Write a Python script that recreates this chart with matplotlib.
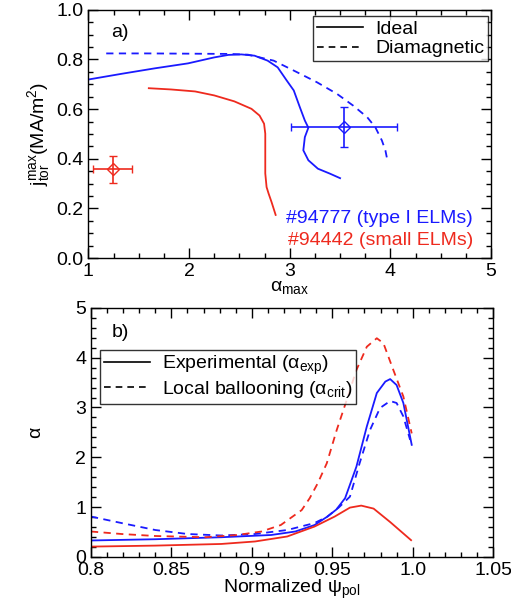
import matplotlib
matplotlib.use("Agg")
import matplotlib.pyplot as plt
from matplotlib.ticker import MultipleLocator, FormatStrFormatter
from matplotlib.lines import Line2D

plt.rcParams['font.family'] = ['Liberation Sans', 'DejaVu Sans']
plt.rcParams['mathtext.fontset'] = 'custom'
plt.rcParams['mathtext.rm'] = 'Liberation Sans'
plt.rcParams['mathtext.it'] = 'Liberation Sans'

# ---- Panel a) data ----
ideal_94777_x = [1.00, 1.33, 1.66, 1.99, 2.25, 2.39, 2.52, 2.65, 2.78, 2.88, 2.97, 3.04, 3.10, 3.15,
                 3.185, 3.15, 3.135, 3.185, 3.28, 3.40, 3.50]
ideal_94777_y = [0.719, 0.742, 0.764, 0.784, 0.808, 0.818, 0.820, 0.815, 0.795, 0.768, 0.715, 0.675, 0.608, 0.554,
                 0.525, 0.487, 0.434, 0.394, 0.360, 0.340, 0.322]
diam_94777_x = [1.177, 1.6, 2.0, 2.4, 2.585, 2.84, 3.04, 3.27, 3.47, 3.63, 3.77, 3.85, 3.915, 3.95, 3.97]
diam_94777_y = [0.824, 0.824, 0.823, 0.822, 0.819, 0.795, 0.755, 0.708, 0.661, 0.614, 0.567, 0.527, 0.474, 0.434, 0.394]
ideal_94442_x = [1.60, 1.82, 2.06, 2.25, 2.45, 2.62, 2.70, 2.745, 2.757, 2.757, 2.757, 2.77, 2.79, 2.82, 2.86]
ideal_94442_y = [0.684, 0.679, 0.671, 0.655, 0.631, 0.601, 0.574, 0.541, 0.501, 0.43, 0.341, 0.286, 0.260, 0.225, 0.174]
exp_94777 = (3.54, 0.529, 0.53, 0.08)   # x, y, xerr, yerr
exp_94442 = (1.24, 0.357, 0.19, 0.054)

# ---- Panel b) data ----
psi_exp_94777 = [0.80, 0.84, 0.881, 0.912, 0.927, 0.939, 0.947, 0.9525, 0.958, 0.965, 0.9715, 0.9777,
                 0.983, 0.986, 0.990, 0.9942, 0.9994]
alpha_exp_94777 = [0.33, 0.355, 0.395, 0.44, 0.51, 0.64, 0.81, 0.95, 1.18, 1.81, 2.62, 3.29,
                   3.52, 3.57, 3.45, 3.09, 2.25]
psi_crit_94777 = [0.80, 0.819, 0.840, 0.860, 0.881, 0.902, 0.922, 0.939, 0.947, 0.954, 0.961, 0.967, 0.9735,
                  0.9797, 0.986, 0.990, 0.9942, 0.9984]
alpha_crit_94777 = [0.81, 0.68, 0.54, 0.46, 0.43, 0.46, 0.54, 0.68, 0.81, 0.99, 1.21, 1.88, 2.55,
                    2.99, 3.13, 3.09, 2.82, 2.35]
psi_exp_94442 = [0.80, 0.84, 0.881, 0.902, 0.922, 0.939, 0.9515, 0.961, 0.968, 0.9757, 0.986, 0.999]
alpha_exp_94442 = [0.207, 0.227, 0.26, 0.31, 0.41, 0.61, 0.81, 0.99, 1.03, 0.97, 0.70, 0.336]
psi_crit_94442 = [0.80, 0.819, 0.840, 0.871, 0.891, 0.906, 0.918, 0.931, 0.936, 0.941, 0.9466, 0.9528, 0.959,
                  0.965, 0.9715, 0.9777, 0.9818, 0.988, 0.9942, 0.9994]
alpha_crit_94442 = [0.51, 0.46, 0.42, 0.395, 0.44, 0.51, 0.64, 0.94, 1.18, 1.48, 1.88, 2.55, 3.15,
                    3.75, 4.22, 4.39, 4.29, 3.75, 3.22, 2.48]

BLUE = '#1a1aff'
RED = '#ee2a1e'
FS = 14

fig = plt.figure(figsize=(5.11, 6.06), dpi=100)
ax1 = fig.add_axes([0.173, 0.574, 0.788, 0.410])
ax2 = fig.add_axes([0.178, 0.081, 0.787, 0.411])

def style(ax):
    ax.tick_params(which='both', direction='in', top=True, right=True, labelsize=FS, width=1.0)
    ax.tick_params(which='major', length=7, pad=3.5)
    ax.tick_params(which='minor', length=3.5)
    for s in ax.spines.values():
        s.set_linewidth(1.0)

# Panel a
ax1.plot(ideal_94777_x, ideal_94777_y, color=BLUE, lw=1.3)
ax1.plot(diam_94777_x, diam_94777_y, color=BLUE, lw=1.3, ls=(0, (4, 3)))
ax1.plot(ideal_94442_x, ideal_94442_y, color=RED, lw=1.3)
for (x, y, xe, ye), c in [(exp_94777, BLUE), (exp_94442, RED)]:
    ax1.errorbar([x], [y], xerr=[xe], yerr=[ye], fmt='D', mfc='none', mec=c, ecolor=c,
                 ms=6, mew=1.0, elinewidth=1.2, capsize=3, capthick=1.2)
ax1.set_xlim(1, 5)
ax1.set_ylim(0, 1.0)
ax1.xaxis.set_major_locator(MultipleLocator(1))
ax1.xaxis.set_minor_locator(MultipleLocator(0.25))
ax1.yaxis.set_major_locator(MultipleLocator(0.2))
ax1.yaxis.set_minor_locator(MultipleLocator(0.05))
ax1.yaxis.set_major_formatter(FormatStrFormatter('%.1f'))
style(ax1)
ax1.set_xlabel(r'$\mathrm{\alpha_{max}}$', fontsize=FS, labelpad=-1)
ax1.set_ylabel(r'$\mathrm{j_{tor}^{max}}$(MA/m$^2$)', fontsize=FS, labelpad=3)
ax1.text(1.31, 0.91, 'a)', fontsize=FS, ha='center', va='center')
ax1.text(4.82, 0.158, '#94777 (type I ELMs)', color=BLUE, fontsize=FS, ha='right', va='center')
ax1.text(4.82, 0.071, '#94442 (small ELMs)', color=RED, fontsize=FS, ha='right', va='center')
h = [Line2D([], [], color='k', lw=1.2), Line2D([], [], color='k', lw=1.2, ls=(0, (4, 3)))]
leg1 = ax1.legend(h, ['Ideal', 'Diamagnetic'], loc='upper right', bbox_to_anchor=(0.9925, 0.973),
                  fontsize=FS, frameon=True, fancybox=False, edgecolor='k', handlelength=2.4,
                  borderpad=0.2, labelspacing=0.1, handletextpad=0.6, borderaxespad=0.0)
leg1.get_frame().set_linewidth(1.0)

# Panel b
ax2.plot(psi_exp_94777, alpha_exp_94777, color=BLUE, lw=1.3)
ax2.plot(psi_crit_94777, alpha_crit_94777, color=BLUE, lw=1.3, ls=(0, (4, 3)))
ax2.plot(psi_exp_94442, alpha_exp_94442, color=RED, lw=1.3)
ax2.plot(psi_crit_94442, alpha_crit_94442, color=RED, lw=1.3, ls=(0, (4, 3)))
ax2.set_xlim(0.8, 1.05)
ax2.set_ylim(0, 5)
ax2.xaxis.set_ticks([0.8, 0.85, 0.9, 0.95, 1.0, 1.05])
ax2.set_xticklabels(['0.8', '0.85', '0.9', '0.95', '1.0', '1.05'])
ax2.xaxis.set_minor_locator(MultipleLocator(0.01))
ax2.yaxis.set_major_locator(MultipleLocator(1))
ax2.yaxis.set_minor_locator(MultipleLocator(0.2))
style(ax2)
ax2.set_xlabel(r'Normalized $\mathrm{\psi_{pol}}$', fontsize=FS, labelpad=-1)
ax2.set_ylabel(r'$\mathrm{\alpha}$', fontsize=FS, labelpad=22, rotation=90)
ax2.text(0.818, 4.5, 'b)', fontsize=FS, ha='center', va='center')
leg2 = ax2.legend(h, [r'Experimental ($\mathrm{\alpha_{exp}}$)', r'Local ballooning ($\mathrm{\alpha_{crit}}$)'],
                  loc='upper left', bbox_to_anchor=(0.022, 0.832), fontsize=FS, frameon=True,
                  fancybox=False, edgecolor='k', handlelength=2.4, borderpad=0.2,
                  labelspacing=0.1, handletextpad=0.6, borderaxespad=0.0)
leg2.get_frame().set_linewidth(1.0)

fig.savefig('out.png', dpi=100)
